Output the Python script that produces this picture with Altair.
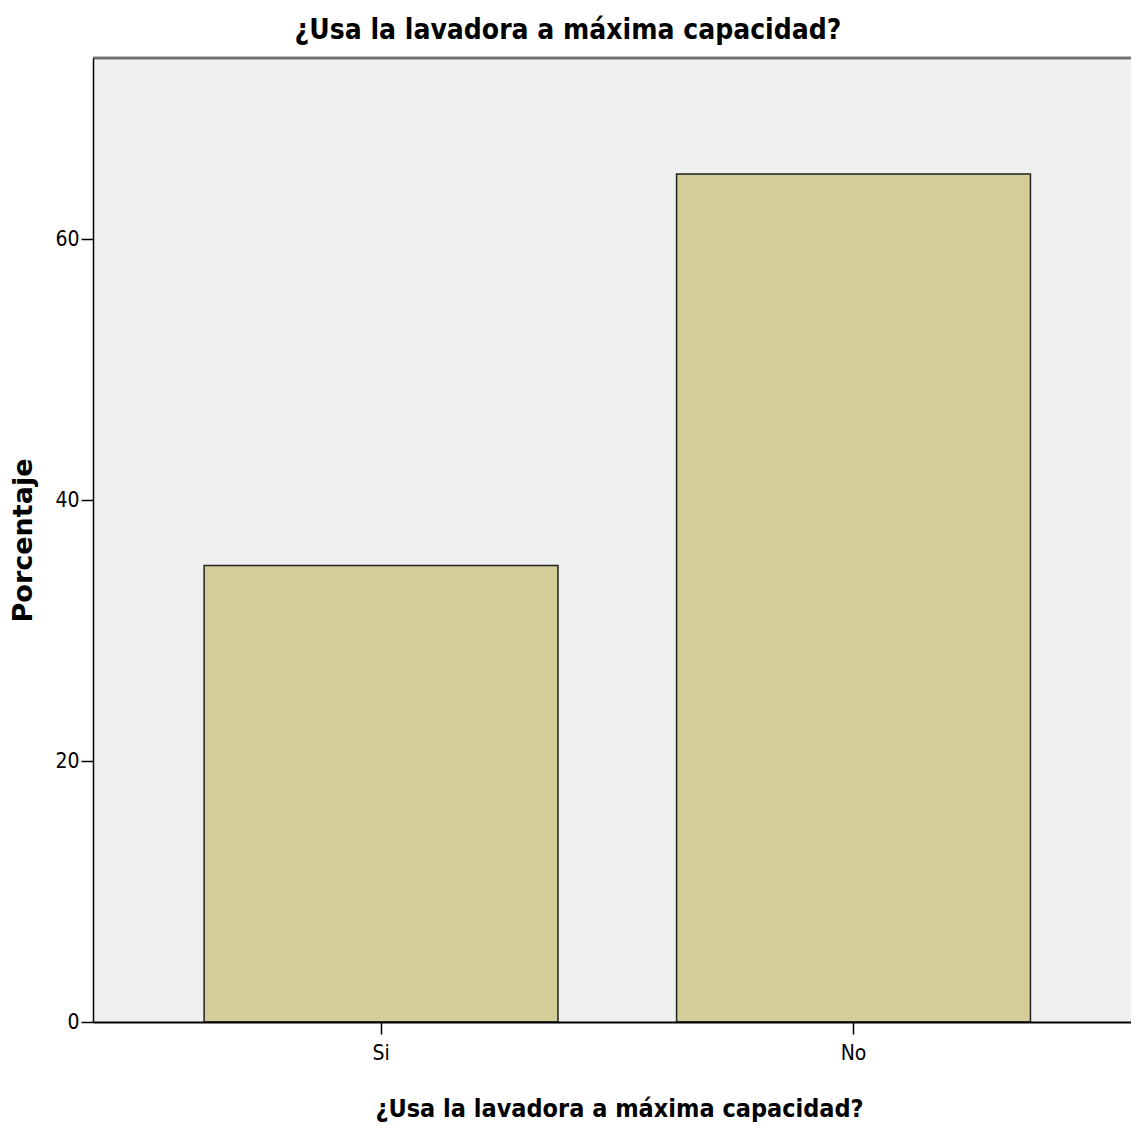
import altair as alt
import pandas as pd

categories = ["Si", "No"]
percentages = [35.0, 65.0]
y_ticks = [0, 20, 40, 60]

df = pd.DataFrame({"cat": categories, "pct": percentages})

W = 1038
H = 964
NARROW = "DejaVu Sans Condensed, Liberation Sans Narrow, sans-serif"

xscale = alt.Scale(domain=categories, paddingInner=0.251, paddingOuter=0.224, align=0.525)
yscale = alt.Scale(domain=[0, 73.9], nice=False, zero=True)

background = alt.Chart(df).mark_rect(color="#F0F0F0").encode(
    x=alt.value(0), x2=alt.value(W), y=alt.value(0), y2=alt.value(H)
)

bars = alt.Chart(df).mark_bar(
    color="#D3CE97", stroke="#222222", strokeWidth=1.5
).encode(
    x=alt.X("cat:N", scale=xscale, sort=categories,
            axis=alt.Axis(title="¿Usa la lavadora a máxima capacidad?", labelAngle=0,
                          domainColor="#000000", domainWidth=2, tickColor="#000000",
                          tickSize=12, tickWidth=1.5, labelFont=NARROW, labelFontSize=21,
                          labelColor="#000000", labelPadding=8, zindex=1,
                          titleFont=NARROW, titleFontSize=25, titleFontWeight="bold",
                          titleColor="#000000", titleX=526, titleY=86, titleBaseline="middle")),
    y=alt.Y("pct:Q", scale=yscale,
            axis=alt.Axis(title="Porcentaje", values=y_ticks, grid=False,
                          domainColor="#000000", domainWidth=1.5, tickColor="#000000",
                          tickSize=12, tickWidth=1.5, labelFont=NARROW, labelFontSize=21,
                          labelColor="#000000", labelPadding=2, zindex=1,
                          titleFont="DejaVu Sans, sans-serif", titleFontSize=27,
                          titleFontWeight="bold", titleColor="#000000",
                          titleX=-70, titleY=482, titleAngle=270, titleBaseline="middle")),
)

top_border = alt.Chart(df).mark_rule(color="#707070", strokeWidth=2.5).encode(
    x=alt.value(0), x2=alt.value(W), y=alt.value(0)
)

chart = alt.layer(background, bars, top_border).properties(
    width=W, height=H,
    background="#FFFFFF",
    autosize=alt.AutoSizeParams(type="none"),
    padding={"left": 85, "top": 50, "right": 0, "bottom": 101},
    title=alt.TitleParams(
        "¿Usa la lavadora a máxima capacidad?", font=NARROW, fontSize=28,
        fontWeight="bold", color="#000000", anchor="middle", dx=-44, dy=28, offset=12,
        baseline="bottom"),
).configure_view(strokeWidth=0, fill="#F0F0F0")

chart.save("out.html", embed_options={"renderer": "svg", "actions": False})
